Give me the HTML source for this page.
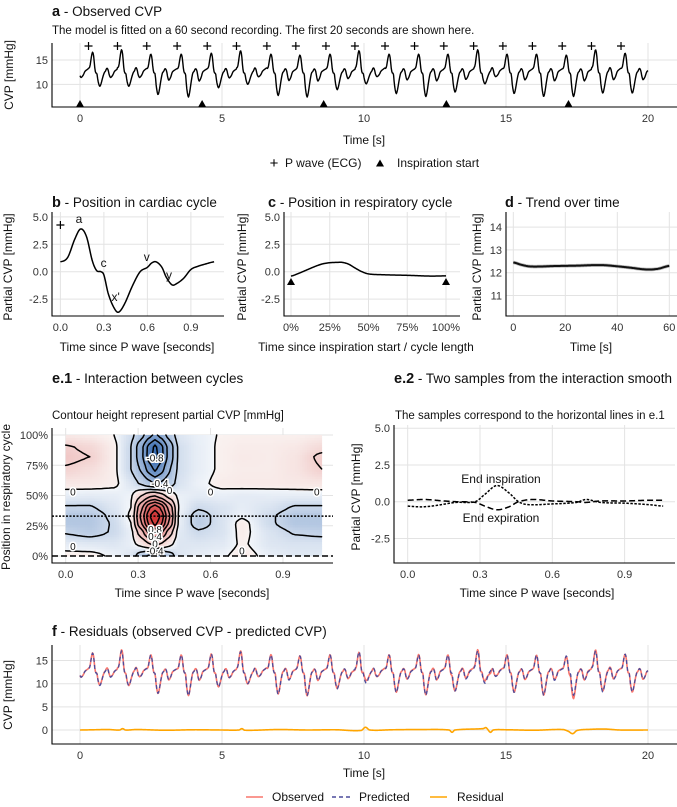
<!DOCTYPE html>
<html><head><meta charset="utf-8">
<style>
html,body{margin:0;padding:0;background:#fff;}
svg{display:block;font-family:"Liberation Sans",Arial,sans-serif;}
.tk{font-size:11px;fill:#333;}
.at{font-size:12px;fill:#111;}
.tt{font-size:13.5px;fill:#111;}
.st{font-size:11.5px;fill:#111;}
.cl{font-size:10px;fill:#111;paint-order:stroke;stroke:#fff;stroke-width:3px;}
</style></head>
<body>
<svg id="fig" width="677" height="807" viewBox="0 0 677 807" xmlns="http://www.w3.org/2000/svg">
<g id="bg"></g>
<text class="tt" x="52" y="16"><tspan font-weight="bold" font-size="14.5">a</tspan> - Observed CVP</text>
<text class="st" x="52" y="34">The model is fitted on a 60 second recording. The first 20 seconds are shown here.</text>
<text class="at" x="364" y="144" text-anchor="middle">Time [s]</text>
<text class="at" transform="translate(13,75) rotate(-90)" text-anchor="middle">CVP [mmHg]</text>
<g>
<text x="274" y="168" text-anchor="middle" font-size="15">+</text>
<text class="at" x="285" y="167">P wave (ECG)</text>
<polygon points="380,159.5 384,166.5 376,166.5" fill="#000"/>
<text class="at" x="397" y="167">Inspiration start</text>
</g>
<text class="tt" x="52" y="207"><tspan font-weight="bold" font-size="14.5">b</tspan> - Position in cardiac cycle</text>
<text class="tt" x="268" y="207"><tspan font-weight="bold" font-size="14.5">c</tspan> - Position in respiratory cycle</text>
<text class="tt" x="505" y="207"><tspan font-weight="bold" font-size="14.5">d</tspan> - Trend over time</text>
<text class="at" x="137" y="351" text-anchor="middle">Time since P wave [seconds]</text>
<text class="at" x="366" y="351" text-anchor="middle">Time since inspiration start / cycle length</text>
<text class="at" x="591" y="351" text-anchor="middle">Time [s]</text>
<text class="at" transform="translate(12,267) rotate(-90)" text-anchor="middle">Partial CVP [mmHg]</text>
<text class="at" transform="translate(246,267) rotate(-90)" text-anchor="middle">Partial CVP [mmHg]</text>
<text class="at" transform="translate(481,267) rotate(-90)" text-anchor="middle">Partial CVP [mmHg]</text>
<text class="tt" x="52" y="383"><tspan font-weight="bold" font-size="14.5">e.1</tspan> - Interaction between cycles</text>
<text class="st" x="52" y="419">Contour height represent partial CVP [mmHg]</text>
<text class="tt" x="394" y="383"><tspan font-weight="bold" font-size="14.5">e.2</tspan> - Two samples from the interaction smooth</text>
<text class="st" x="395" y="419">The samples correspond to the horizontal lines in e.1</text>
<text class="at" x="192" y="597" text-anchor="middle">Time since P wave [seconds]</text>
<text class="at" transform="translate(10,497) rotate(-90)" text-anchor="middle">Position in respiratory cycle</text>
<text class="at" x="537" y="597" text-anchor="middle">Time since P wave [seconds]</text>
<text class="at" transform="translate(360,497) rotate(-90)" text-anchor="middle">Partial CVP [mmHg]</text>
<text class="at" x="501" y="483" text-anchor="middle">End inspiration</text>
<text class="at" x="501" y="522" text-anchor="middle">End expiration</text>
<text class="tt" x="52" y="636"><tspan font-weight="bold" font-size="14.5">f</tspan> - Residuals (observed CVP - predicted CVP)</text>
<text class="at" x="364" y="777" text-anchor="middle">Time [s]</text>
<text class="at" transform="translate(12,695) rotate(-90)" text-anchor="middle">CVP [mmHg]</text>
<g>
<line x1="246" y1="797" x2="263" y2="797" stroke="#f8766d" stroke-width="1.5"/>
<text class="at" x="272" y="801">Observed</text>
<line x1="332" y1="797" x2="350" y2="797" stroke="#4b4b9b" stroke-width="1.5" stroke-dasharray="4,3"/>
<text class="at" x="359" y="801">Predicted</text>
<line x1="430" y1="797" x2="447" y2="797" stroke="#ffa500" stroke-width="1.5"/>
<text class="at" x="457" y="801">Residual</text>
</g>
</svg>
<script>
// ---------- data ----------
const pTimes = [0.30,1.32,2.35,3.42,4.48,5.51,6.58,7.60,8.66,9.68,10.74,11.78,12.81,13.86,14.89,15.93,16.98,18.01,19.05];
const beatPeak = [16.6,17.1,16.2,16.2,16.4,16.9,16.2,16.0,16.2,16.9,16.2,16.2,16.2,17.1,16.2,16.2,16.0,17.1,16.4];
const beatTrough = [9.6,9.6,7.9,7.4,9.3,10.0,7.7,7.4,8.9,10.1,8.1,7.5,8.4,10.1,8.1,7.5,7.5,8.2,8.2];
const inspTimes = [0.0,4.3,8.58,12.9,17.2];
const cardT = [0,0.05,0.1,0.14,0.18,0.22,0.25,0.28,0.3,0.33,0.37,0.4,0.44,0.5,0.55,0.6,0.63,0.66,0.7,0.73,0.77,0.8,0.85,0.9,0.95,1.0,1.06];
const cardV = [0.9,1.3,3.0,3.9,3.2,1.0,0.1,0.0,-0.3,-2.0,-3.3,-3.7,-3.0,-1.2,0.0,0.4,0.8,0.9,0.4,-0.5,-1.2,-1.1,-0.6,0.2,0.5,0.7,0.9];
const respP = [0,5,10,15,20,25,30,33,37,40,45,50,60,75,90,100];
const respV = [-0.4,-0.15,0.15,0.45,0.7,0.82,0.85,0.85,0.7,0.45,0.05,-0.2,-0.28,-0.33,-0.4,-0.38];
const trendT = [0,3,6,10,15,20,25,30,35,40,45,50,53,56,60];
const trendV = [12.45,12.35,12.28,12.27,12.29,12.3,12.31,12.33,12.33,12.28,12.22,12.15,12.14,12.18,12.3];
const gridX = [0,0.1,0.2,0.27,0.31,0.35,0.37,0.39,0.43,0.47,0.55,0.65,0.73,0.85,0.95,1.06];
const gridY = [0,10,20,27,33,40,50,60,72,82,90,100];
const gridZ = [
 [ 0.04, 0.04,-0.02,-0.1,-0.3,-0.45,-0.5,-0.45,-0.3,-0.1,-0.05,-0.02, 0.06,-0.05,-0.08,-0.08],
 [-0.06,-0.08,-0.1,-0.05, 0.05, 0.2, 0.28, 0.2, 0.05,-0.1,-0.1,-0.08, 0.02,-0.1,-0.12,-0.12],
 [-0.22,-0.28,-0.18,-0.05, 0.3, 0.7, 0.85, 0.7, 0.3,-0.08,-0.18,-0.12, 0.04,-0.12,-0.22,-0.25],
 [-0.32,-0.32,-0.18, 0.0, 0.55, 1.1, 1.28, 1.1, 0.55,-0.05,-0.28,-0.12, 0.05,-0.18,-0.32,-0.32],
 [-0.32,-0.32,-0.15, 0.02, 0.62, 1.2, 1.38, 1.2, 0.62,-0.05,-0.28,-0.12,-0.02,-0.18,-0.32,-0.32],
 [-0.22,-0.22,-0.1, 0.0, 0.52, 1.0, 1.12, 1.0, 0.52,-0.02,-0.18,-0.12,-0.06,-0.12,-0.22,-0.22],
 [-0.06,-0.07,-0.06,-0.02, 0.18, 0.35, 0.38, 0.3, 0.12,-0.04,-0.07,-0.05,-0.07,-0.06,-0.06,-0.06],
 [ 0.06, 0.06, 0.03,-0.1,-0.22,-0.35,-0.42,-0.38,-0.3,-0.12,-0.03, 0.04, 0.05, 0.05, 0.06, 0.07],
 [ 0.18, 0.12, 0.03,-0.2,-0.42,-0.72,-0.85,-0.72,-0.42,-0.15,-0.05, 0.02, 0.04, 0.04, 0.08, 0.2],
 [ 0.26, 0.2, 0.03,-0.2,-0.52,-0.92,-1.1,-0.92,-0.52,-0.15,-0.05, 0.02, 0.05, 0.04, 0.08, 0.24],
 [ 0.22, 0.16, 0.03,-0.2,-0.52,-0.9,-1.05,-0.9,-0.52,-0.15,-0.05, 0.02, 0.04, 0.04, 0.06, 0.14],
 [ 0.06, 0.04, 0.0,-0.15,-0.32,-0.55,-0.65,-0.55,-0.32,-0.1,-0.04, 0.01, 0.02, 0.02, 0.02, 0.04]
];
const contourLevels = [-1.0,-0.8,-0.6,-0.4,-0.2,0,0.2,0.4,0.6,0.8,1.0,1.2];
const inspT = [0,0.05,0.1,0.2,0.28,0.32,0.37,0.42,0.46,0.5,0.6,0.7,0.74,0.8,0.9,1.0,1.06];
const inspV = [-0.3,-0.35,-0.3,-0.05,0.0,0.5,1.1,0.6,0.0,-0.2,-0.15,-0.05,0.15,-0.05,-0.1,-0.2,-0.3];
const expT = [0,0.07,0.15,0.2,0.28,0.32,0.37,0.42,0.46,0.52,0.6,0.7,0.74,0.8,0.9,1.0,1.06];
const expV = [0.1,0.15,0.05,0.0,-0.05,-0.3,-0.55,-0.35,0.0,0.15,0.05,0.0,-0.05,0.05,0.05,0.1,0.1];
const resT = [0,0.5,1,1.4,1.5,1.6,2,3,4,5,5.6,5.7,5.8,7,8,9,9.9,10.05,10.2,11,12,13,13.1,13.2,14.2,14.3,14.45,14.55,15,16,17,17.2,17.35,17.5,18,18.5,19,20];
const resV = [0,0.05,0.1,0,0.3,0,0.1,-0.05,0.05,0,0,0.3,-0.05,0.1,0,0.05,-0.1,0.6,0,0.05,0.1,0,-0.5,0,0.3,0.5,-0.5,0,0.05,-0.05,0.1,-0.3,-0.8,-0.1,0.15,0.2,0,0];
const aXTicks = [0,5,10,15,20], aYTicks = [10,15];
const bXTicks = [0,0.3,0.6,0.9], bXLabels = ['0.0','0.3','0.6','0.9'];
const cvpPartTicks = [-2.5,0,2.5,5], cvpPartLabels = ['-2.5','0.0','2.5','5.0'];
const cXTicks = [0,25,50,75,100], cXLabels = ['0%','25%','50%','75%','100%'];
const dXTicks = [0,20,40,60], dYTicks = [11,12,13,14];
const eYTicks = [0,25,50,75,100], eYLabels = ['0%','25%','50%','75%','100%'];
const fYTicks = [0,5,10,15];

// ---------- helpers ----------
const NS='http://www.w3.org/2000/svg';
const svg=document.getElementById('fig');
function el(tag,parent){const e=document.createElementNS(NS,tag);(parent||svg).appendChild(e);return e;}
function interp(xs,ys,x){
  if(x<=xs[0])return ys[0]; const n=xs.length; if(x>=xs[n-1])return ys[n-1];
  let i=0; while(xs[i+1]<x)i++;
  const t=(x-xs[i])/(xs[i+1]-xs[i]);
  const p0=ys[Math.max(0,i-1)],p1=ys[i],p2=ys[i+1],p3=ys[Math.min(n-1,i+2)];
  const h=xs[i+1]-xs[i];
  const h0=xs[i]-xs[Math.max(0,i-1)]||h, h2=xs[Math.min(n-1,i+2)]-xs[i+1]||h;
  const m1=(p2-p0)/(h+h0)*h, m2=(p3-p1)/(h+h2)*h;
  const t2=t*t,t3=t2*t;
  return (2*t3-3*t2+1)*p1+(t3-2*t2+t)*m1+(-2*t3+3*t2)*p2+(t3-t2)*m2;
}
function pathFrom(pts){return pts.map((p,i)=>(i?'L':'M')+p[0].toFixed(2)+' '+p[1].toFixed(2)).join('');}
function smoothPath(xs,ys,sx,sy,steps){
  const pts=[];const a=xs[0],b=xs[xs.length-1];
  for(let k=0;k<=steps;k++){const x=a+(b-a)*k/steps;pts.push([sx(x),sy(interp(xs,ys,x))]);}
  return pathFrom(pts);
}
function axes(pfx,L,R,T,B,xt,xl,sx,yt,yl,sy){
  const g=el('g');
  
  
  xt.forEach((v,i)=>{
    const x=sx(v);
    const gl=el('line',g);
    
    
    gl.setAttribute('x1',x);gl.setAttribute('x2',x);gl.setAttribute('y1',T);gl.setAttribute('y2',B);
    gl.setAttribute('stroke','#e3e3e3');gl.setAttribute('stroke-width','1');
    const t=el('text',g);
    
    
    t.setAttribute('class','tk');t.setAttribute('x',x);t.setAttribute('y',B+15);t.setAttribute('text-anchor','middle');
    t.textContent=xl[i];
  });
  yt.forEach((v,i)=>{
    const y=sy(v);
    const gl=el('line',g);
    
    
    gl.setAttribute('x1',L);gl.setAttribute('x2',R);gl.setAttribute('y1',y);gl.setAttribute('y2',y);
    gl.setAttribute('stroke','#e3e3e3');gl.setAttribute('stroke-width','1');
    const t=el('text',g);
    
    
    t.setAttribute('class','tk');t.setAttribute('x',L-4);t.setAttribute('y',y+4);t.setAttribute('text-anchor','end');
    t.textContent=yl[i];
  });
  return g;
}
function axisLines(pfx,L,R,T,B){
  const a=el('path');
  
  
  a.setAttribute('d','M'+L+' '+T+'L'+L+' '+B+'L'+R+' '+B);
  a.setAttribute('fill','none');a.setAttribute('stroke','#000');a.setAttribute('stroke-width','1.1');
}
function line(d,name,stroke,w,dash,parent){
  const p=el('path',parent);
  
  
  p.setAttribute('d',d);p.setAttribute('fill','none');p.setAttribute('stroke',stroke);p.setAttribute('stroke-width',w);
  if(dash)p.setAttribute('stroke-dasharray',dash);
  p.setAttribute('stroke-linejoin','round');
  return p;
}
function tri(x,y,name){
  const p=el('polygon');
  
  
  p.setAttribute('points',x+','+(y-4)+' '+(x+4)+','+(y+3)+' '+(x-4)+','+(y+3));
  p.setAttribute('fill','#000');
}
function plus(x,y,name){
  const p=el('path');
  
  
  p.setAttribute('d','M'+(x-4)+' '+y+'L'+(x+4)+' '+y+'M'+x+' '+(y-4)+'L'+x+' '+(y+4));
  p.setAttribute('stroke','#000');p.setAttribute('stroke-width','1.2');
}
function cvpAt(t){
  let k=-1; for(let i=0;i<pTimes.length;i++){if(pTimes[i]<=t)k=i;}
  const P = k<0 ? pTimes[0]-1.04 : pTimes[k];
  const kk = Math.max(0,k);
  let tau=Math.min(t-P,1.06);
  const c=interp(cardT,cardV,tau);
  const base=12.3;
  return c>=0 ? base+c*(beatPeak[kk]-base)/3.9 : base+c*(base-beatTrough[kk])/3.7;
}

// ---------- panel a ----------
const xa=t=>80+t*28.4, ya=v=>60-(v-15)*4.87;
axes('panel-a',52,677,43,107,aXTicks,aXTicks.map(String),xa,aYTicks,aYTicks.map(String),ya);
(function(){
  const pts=[];for(let t=0;t<=20.0001;t+=0.02)pts.push([xa(t),ya(cvpAt(t))]);
  line(pathFrom(pts),'observed-cvp-line','#000','1.4');
})();
pTimes.forEach(t=>plus(xa(t),46,'p-wave-marker'));
inspTimes.forEach(t=>tri(xa(t),104,'inspiration-marker'));
axisLines('panel-a',52,677,43,107);

// ---------- panel b ----------
const xb=t=>60.4+t*145, yb=v=>271.7-v*10.96;
axes('panel-b',52,224,212,316,bXTicks,bXLabels,xb,cvpPartTicks,cvpPartLabels,yb);
line(smoothPath(cardT,cardV,xb,yb,300),'cardiac-cycle-curve','#000','1.5');
plus(60.4,225,'p-wave-marker-b');
[['a',79,223],['c',103.6,267],["x'",115.7,301],['v',146.8,261],['y',169,279]].forEach(l=>{
  const t=el('text');
  
  
  t.setAttribute('class','at');t.setAttribute('x',l[1]);t.setAttribute('y',l[2]);t.setAttribute('text-anchor','middle');
  t.textContent=l[0];
});
axisLines('panel-b',52,224,212,316);

// ---------- panel c ----------
const xc=p=>291+p*1.55;
axes('panel-c',284,460,212,316,cXTicks,cXLabels,xc,cvpPartTicks,cvpPartLabels,yb);
line(smoothPath(respP,respV,xc,yb,200),'respiratory-cycle-curve','#000','1.5');
tri(xc(0),282,'inspiration-marker-c-start');
tri(xc(100),282,'inspiration-marker-c-end');
axisLines('panel-c',284,460,212,316);

// ---------- panel d ----------
const xd=t=>513.3+t*2.6, yd=v=>272.7-(v-12)*22.8;
axes('panel-d',506,677,212,316,dXTicks,dXTicks.map(String),xd,dYTicks,dYTicks.map(String),yd);
line(smoothPath(trendT,trendV,xd,yd,200),'trend-ribbon','#bbb','3.5');
line(smoothPath(trendT,trendV,xd,yd,200),'trend-curve','#111','2');
axisLines('panel-d',506,677,212,316);

// ---------- panel e.1 ----------
const xe=t=>65.7+t*241.4, ye=p=>556-p*1.21;
axes('panel-e1',52,333,428,563,bXTicks,bXLabels,xe,eYTicks,eYLabels,ye);
function bil(x,y){
  let i=0;while(i<gridX.length-2&&gridX[i+1]<x)i++;
  let j=0;while(j<gridY.length-2&&gridY[j+1]<y)j++;
  const tx=Math.max(0,Math.min(1,(x-gridX[i])/(gridX[i+1]-gridX[i])));
  const ty=Math.max(0,Math.min(1,(y-gridY[j])/(gridY[j+1]-gridY[j])));
  const sx=tx*tx*(3-2*tx), sy=ty*ty*(3-2*ty);
  const a=gridZ[j][i],b=gridZ[j][i+1],c=gridZ[j+1][i],d=gridZ[j+1][i+1];
  const u=0.5*tx+0.5*sx, w=0.5*ty+0.5*sy;
  return a*(1-u)*(1-w)+b*u*(1-w)+c*(1-u)*w+d*u*w;
}
function col(v){
  let r,g,b;
  if(v<0){const t=Math.min(1,Math.pow(-v/1.15,0.9));r=244+(40-244)*t;g=247+(95-247)*t;b=251+(170-251)*t;}
  else{const t=Math.min(1,Math.pow(v/1.4,0.9));r=250+(205-250)*t;g=244+(40-244)*t;b=242+(40-242)*t;}
  return 'rgb('+Math.round(r)+','+Math.round(g)+','+Math.round(b)+')';
}
(function(){
  const NX=106,NY=50, xmax=1.06;
  const hm=el('g');
  
  
  const Z=[];
  for(let j=0;j<=NY;j++){Z.push([]);for(let i=0;i<=NX;i++)Z[j].push(bil(i*xmax/NX,j*100/NY));}
  const cw=xe(xmax/NX)-xe(0), ch=ye(0)-ye(100/NY);
  for(let j=0;j<NY;j++)for(let i=0;i<NX;i++){
    const v=(Z[j][i]+Z[j][i+1]+Z[j+1][i]+Z[j+1][i+1])/4;
    const r=el('rect',hm);
    
    
    r.setAttribute('x',xe(i*xmax/NX).toFixed(2));r.setAttribute('y',ye((j+1)*100/NY).toFixed(2));
    r.setAttribute('width',(cw+0.5).toFixed(2));r.setAttribute('height',(ch+0.5).toFixed(2));
    r.setAttribute('fill',col(v));
  }
  const cg=el('g');
  
  
  contourLevels.forEach(L=>{
    let d='';
    for(let j=0;j<NY;j++)for(let i=0;i<NX;i++){
      const cs=[[i,j],[i+1,j],[i+1,j+1],[i,j+1]];
      const vs=cs.map(c=>Z[c[1]][c[0]]);
      const pts=[];
      for(let e=0;e<4;e++){
        const a=vs[e],b=vs[(e+1)%4];
        if((a<L)!==(b<L)){
          const t=(L-a)/(b-a);const c1=cs[e],c2=cs[(e+1)%4];
          const gx=c1[0]+(c2[0]-c1[0])*t, gy=c1[1]+(c2[1]-c1[1])*t;
          pts.push([xe(gx*xmax/NX),ye(gy*100/NY)]);
        }
      }
      for(let k=0;k+1<pts.length;k+=2)d+='M'+pts[k][0].toFixed(1)+' '+pts[k][1].toFixed(1)+'L'+pts[k+1][0].toFixed(1)+' '+pts[k+1][1].toFixed(1);
    }
    if(d)line(d,'contour-level-'+L,'#000','1.5',null,cg).setAttribute('stroke-linecap','round');
  });
  [['-0.8',0.37,81],['-0.4',0.39,60],['0',0.43,54],['0',0.03,53],['0',0.6,53],['0',1.04,53],['0.8',0.37,22],['0.4',0.37,16],['0',0.37,10],['-0.4',0.37,4],['0',0.03,8],['0',0.73,4]].forEach(l=>{
    const t=el('text');
    
    
    t.setAttribute('class','cl');t.setAttribute('x',xe(l[1]));t.setAttribute('y',ye(l[2])+3.5);t.setAttribute('text-anchor','middle');
    t.textContent=l[0];
  });
})();
line('M52 '+ye(33)+'L333 '+ye(33),'end-inspiration-line','#000','1.5','2,1.5');
line('M52 '+ye(0)+'L333 '+ye(0),'end-expiration-line','#000','1.5','6,3');
axisLines('panel-e1',52,333,428,563);

// ---------- panel e.2 ----------
const x2=t=>407.7+t*241, y2=v=>501.7-v*14.7;
axes('panel-e2',394,675,425,563,bXTicks,bXLabels,x2,cvpPartTicks,cvpPartLabels,y2);
line(smoothPath(inspT,inspV,x2,y2,300),'end-inspiration-curve','#000','1.5','2.5,1.5');
line(smoothPath(expT,expV,x2,y2,300),'end-expiration-curve','#000','1.5','6,3');
axisLines('panel-e2',394,675,425,563);

// ---------- panel f ----------
const xf=t=>80+t*28.4, yf=v=>730-v*4.63;
axes('panel-f',52,677,645,744,aXTicks,aXTicks.map(String),xf,fYTicks,fYTicks.map(String),yf);
(function(){
  const obs=[],pred=[],res=[];
  for(let t=0;t<=20.0001;t+=0.02){
    const p=cvpAt(t), r=interp(resT,resV,t);
    pred.push([xf(t),yf(p)]);obs.push([xf(t),yf(p+r)]);res.push([xf(t),yf(r)]);
  }
  line(pathFrom(obs),'observed-line','#f8766d','1.6');
  line(pathFrom(pred),'predicted-line','#4b4b9b','1.3','4,3');
  line(pathFrom(res),'residual-line','#ffa500','1.6');
})();
axisLines('panel-f',52,677,645,744);
</script>
</body></html>
